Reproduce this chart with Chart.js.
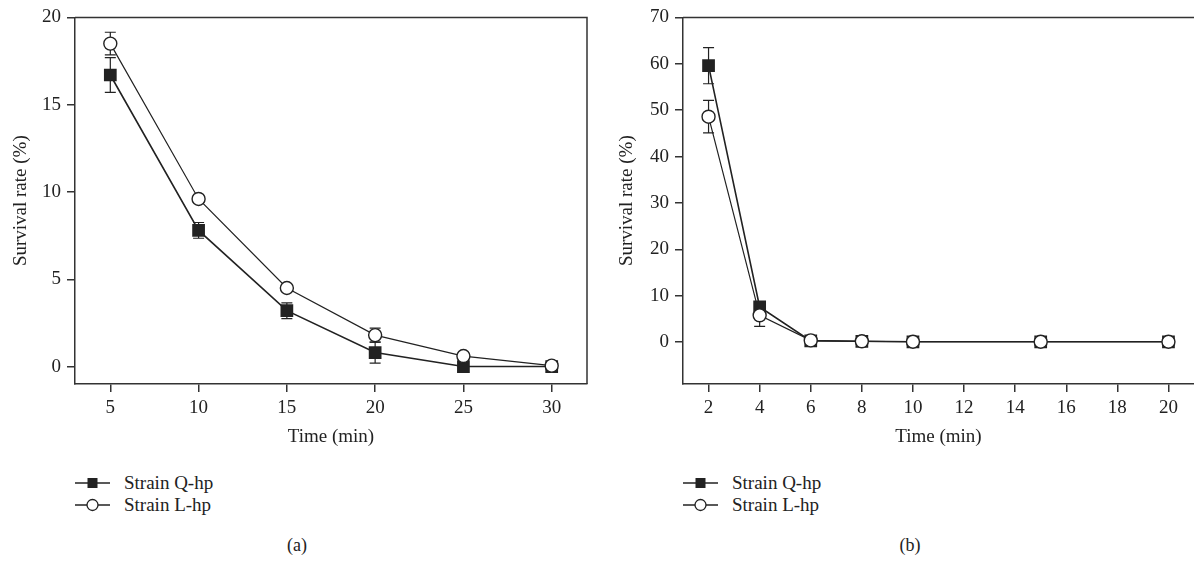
<!DOCTYPE html>
<html>
<head>
<meta charset="utf-8">
<script src="https://cdn.jsdelivr.net/npm/chart.js@4"></script>
<style>
  body { margin: 0; background: #fff; font-family: 'Liberation Serif', serif; color: #222; }
  #wrap { position: relative; width: 1194px; height: 563px; overflow: hidden; }
  canvas { position: absolute; top: 0; }
  .legend { position: absolute; font-size: 19px; line-height: 22px; }
  .legend div { display: flex; align-items: center; height: 22px; }
  .legend svg { margin-right: 14px; }
  .cap { position: absolute; font-size: 18px; transform: translate(-50%, -50%); }
</style>
</head>
<body>
<div id="wrap">
  <canvas id="chartA" width="600" height="452" style="left:0"></canvas>
  <!-- 9px wider: the line points add that much right padding, clipped by #wrap -->
  <canvas id="chartB" width="603" height="452" style="left:600px"></canvas>

  <div class="legend" style="left:75px; top:472px">
    <div><svg width="35" height="14"><line x1="0" y1="7" x2="35" y2="7" stroke="#222" stroke-width="1.5"/><rect x="12.5" y="2" width="10" height="10" fill="#222"/></svg>Strain Q-hp</div>
    <div><svg width="35" height="14"><line x1="0" y1="7" x2="35" y2="7" stroke="#222" stroke-width="1.5"/><circle cx="17.5" cy="7" r="5.5" fill="#fff" stroke="#222" stroke-width="1.3"/></svg>Strain L-hp</div>
  </div>
  <div class="legend" style="left:683px; top:472px">
    <div><svg width="35" height="14"><line x1="0" y1="7" x2="35" y2="7" stroke="#222" stroke-width="1.5"/><rect x="12.5" y="2" width="10" height="10" fill="#222"/></svg>Strain Q-hp</div>
    <div><svg width="35" height="14"><line x1="0" y1="7" x2="35" y2="7" stroke="#222" stroke-width="1.5"/><circle cx="17.5" cy="7" r="5.5" fill="#fff" stroke="#222" stroke-width="1.3"/></svg>Strain L-hp</div>
  </div>
  <div class="cap" style="left:297px; top:545px">(a)</div>
  <div class="cap" style="left:910px; top:545px">(b)</div>
</div>

<script>
// panel (a)
const timeA = [5, 10, 15, 20, 25, 30];
const qhpA = [16.7, 7.8, 3.2, 0.8, 0.0, 0.0];
const qhpErrA = [1.0, 0.45, 0.45, 0.6, 0, 0];
const lhpA = [18.5, 9.6, 4.5, 1.8, 0.6, 0.05];
const lhpErrA = [0.65, 0.2, 0.2, 0.4, 0.15, 0.1];
const xTicksA = [5, 10, 15, 20, 25, 30];
const yTicksA = [0, 5, 10, 15, 20];

// panel (b)
const timeB = [2, 4, 6, 8, 10, 15, 20];
const qhpB = [59.6, 7.6, 0.3, 0.2, 0.1, 0.1, 0.1];
const qhpErrB = [3.9, 1.0, 0.3, 0.3, 0.2, 0, 0];
const lhpB = [48.6, 5.8, 0.4, 0.2, 0.1, 0.1, 0.1];
const lhpErrB = [3.5, 2.4, 0.3, 0.2, 0.2, 0, 0];
const xTicksB = [2, 4, 6, 8, 10, 12, 14, 16, 18, 20];
const yTicksB = [0, 10, 20, 30, 40, 50, 60, 70];

const FONT = 'Liberation Serif';
const INK = '#222';

function toPoints(xs, ys) {
    return xs.map((x, i) => ({ x: x, y: ys[i] }));
}

// error bars, drawn behind the markers
const errorBars = {
    id: 'errorBars',
    beforeDatasetsDraw(chart) {
        const ctx = chart.ctx;
        const xs = chart.scales.x, ys = chart.scales.y;
        ctx.save();
        ctx.strokeStyle = INK;
        ctx.lineWidth = 1.2;
        chart.data.datasets.forEach(ds => {
            ds.data.forEach((p, i) => {
                const e = ds.errors[i];
                if (!e) return;
                const px = xs.getPixelForValue(p.x);
                const top = ys.getPixelForValue(p.y + e);
                const bot = ys.getPixelForValue(p.y - e);
                ctx.beginPath();
                ctx.moveTo(px, top); ctx.lineTo(px, bot);
                ctx.moveTo(px - 5.5, top); ctx.lineTo(px + 5.5, top);
                ctx.moveTo(px - 5.5, bot); ctx.lineTo(px + 5.5, bot);
                ctx.stroke();
            });
        });
        ctx.restore();
    }
};

// frame lines on top / right
const frame = {
    id: 'frame',
    afterDraw(chart, args, opts) {
        const { ctx, chartArea: a } = chart;
        ctx.save();
        ctx.strokeStyle = '#333';
        ctx.lineWidth = 1.5;
        ctx.beginPath();
        ctx.moveTo(a.left, a.top); ctx.lineTo(a.right, a.top);
        if (opts.right) { ctx.lineTo(a.right, a.bottom); }
        ctx.stroke();
        ctx.restore();
    }
};

function makeChart(id, cfg) {
    return new Chart(document.getElementById(id), {
        type: 'line',
        data: {
            datasets: [{
                label: 'Strain L-hp',
                data: toPoints(cfg.time, cfg.lhp),
                errors: cfg.lhpErr,
                borderColor: INK,
                borderWidth: 1.2,
                pointStyle: 'circle',
                pointRadius: 6.5,
                pointBackgroundColor: '#fff',
                pointBorderColor: INK,
                pointBorderWidth: 1.4,
                tension: 0
            }, {
                label: 'Strain Q-hp',
                data: toPoints(cfg.time, cfg.qhp),
                errors: cfg.qhpErr,
                borderColor: INK,
                borderWidth: 1.6,
                pointStyle: 'rect',
                pointRadius: 9,
                pointBackgroundColor: INK,
                pointBorderColor: INK,
                pointBorderWidth: 0,
                tension: 0
            }]
        },
        options: {
            responsive: false,
            animation: false,
            layout: { padding: { top: 16, right: cfg.padRight, left: 0, bottom: 0 } },
            plugins: {
                legend: { display: false },
                tooltip: { enabled: false },
                frame: { right: cfg.frameRight }
            },
            scales: {
                x: {
                    type: 'linear',
                    min: cfg.xMin,
                    max: cfg.xMax,
                    afterBuildTicks: s => { s.ticks = cfg.xTicks.map(v => ({ value: v })); },
                    afterFit: s => { s.height = 68; },
                    grid: { drawOnChartArea: false, drawTicks: true, tickLength: 8, color: '#333', lineWidth: 1.5 },
                    border: { display: true, color: '#333', width: 1.5 },
                    ticks: { color: INK, padding: 5, maxRotation: 0, font: { family: FONT, size: 19 } },
                    title: { display: true, text: 'Time (min)', color: INK, padding: 4, font: { family: FONT, size: 19 } }
                },
                y: {
                    min: cfg.yMin,
                    max: cfg.yMax,
                    afterBuildTicks: s => { s.ticks = cfg.yTicks.map(v => ({ value: v })); },
                    afterFit: s => { s.width = cfg.yWidth; },
                    grid: { drawOnChartArea: false, drawTicks: true, tickLength: 8, color: '#333', lineWidth: 1.5 },
                    border: { display: true, color: '#333', width: 1.5 },
                    ticks: { color: INK, padding: 6, font: { family: FONT, size: 19 } },
                    title: { display: true, text: 'Survival rate (%)', color: INK, padding: cfg.titlePad, font: { family: FONT, size: 19 } }
                }
            }
        },
        plugins: [errorBars, frame]
    });
}

makeChart('chartA', {
    time: timeA, qhp: qhpA, qhpErr: qhpErrA, lhp: lhpA, lhpErr: lhpErrA,
    xTicks: xTicksA, yTicks: yTicksA,
    xMin: 3, xMax: 32, yMin: -1, yMax: 20,
    yWidth: 75, padRight: 13, titlePad: 10, frameRight: true
});

makeChart('chartB', {
    time: timeB, qhp: qhpB, qhpErr: qhpErrB, lhp: lhpB, lhpErr: lhpErrB,
    xTicks: xTicksB, yTicks: yTicksB,
    xMin: 1, xMax: 21, yMin: -9, yMax: 70,
    yWidth: 83, padRight: 0, titlePad: 16, frameRight: false
});
</script>
</body>
</html>
